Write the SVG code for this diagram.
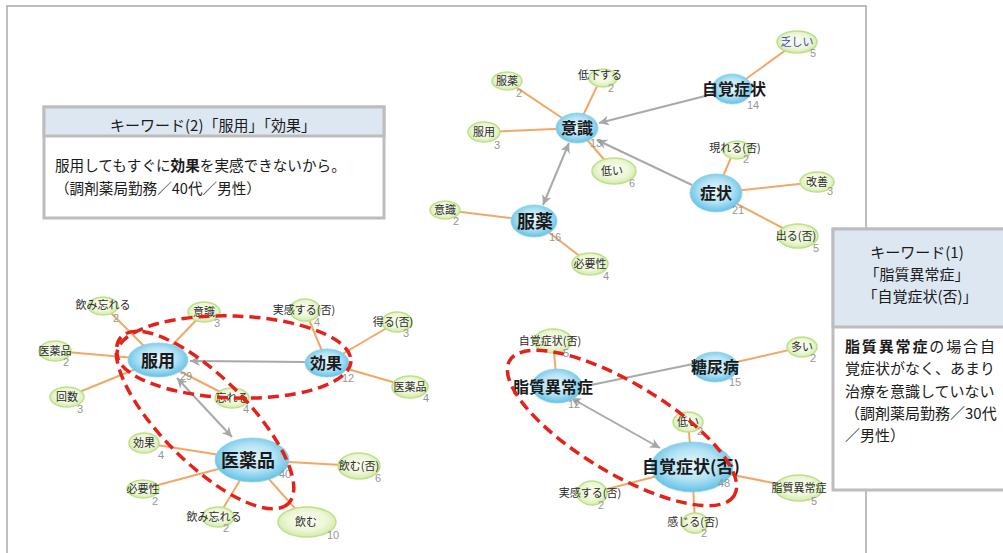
<svg xmlns="http://www.w3.org/2000/svg" width="1003" height="553" viewBox="0 0 1003 553">
<defs>
<radialGradient id="gb" cx="50%" cy="45%" r="55%">
<stop offset="0" stop-color="#e8f7fd"/><stop offset="0.55" stop-color="#b4e3f5"/><stop offset="1" stop-color="#62c1e6"/>
</radialGradient>
<radialGradient id="gg" cx="50%" cy="45%" r="55%">
<stop offset="0" stop-color="#fbfdf3"/><stop offset="0.6" stop-color="#eef7d8"/><stop offset="1" stop-color="#d2ebaa"/>
</radialGradient>
<marker id="ah" markerUnits="userSpaceOnUse" markerWidth="11" markerHeight="10" refX="10" refY="5" orient="auto-start-reverse" viewBox="0 0 11 10">
<path d="M0,0 L10,5 L0,10 L3,5 z" fill="#a6a6a6"/>
</marker>
<style>
.frame{fill:none;stroke:#a8a8a8;stroke-width:1.5}
.e{stroke:#f2a764;stroke-width:2;fill:none}
.a{stroke:#a9a9a9;stroke-width:2;fill:none}
.bn{fill:url(#gb);stroke:#8fd0ea;stroke-width:0.8}
.gn{fill:url(#gg);stroke:#bfe08a;stroke-width:1.5}
.bl{font-family:"Noto Sans CJK JP",sans-serif;font-weight:bold;font-size:16px;fill:#1a1a1a;text-anchor:middle}
.gl{font-family:"Noto Sans CJK JP",sans-serif;font-size:11px;fill:#2a2a2a;text-anchor:middle}
.c{font-family:"Liberation Sans",sans-serif;font-size:11px;fill:#969696}
.hl{fill:none;stroke:#e3231b;stroke-width:3.5;stroke-dasharray:11 6}
.box{fill:#fff;stroke:#bdbdbd;stroke-width:3}
.hdr{fill:#dde7f2;stroke:#bdbdbd;stroke-width:3}
.bt{font-family:"Noto Sans CJK JP",sans-serif;font-size:14.6px;fill:#1a1a1a}
.ht{font-family:"Noto Sans CJK JP",sans-serif;font-size:15px;fill:#1a1a1a;text-anchor:middle}
</style>
</defs>
<rect width="1003" height="553" fill="#fff"/>
<rect class="frame" x="7" y="6" width="859" height="560"/>

<g id="connectors">
<line class="e" x1="577" y1="128" x2="507" y2="81"/>
<line class="e" x1="577" y1="128" x2="601" y2="78"/>
<line class="e" x1="577" y1="128" x2="484" y2="132"/>
<line class="e" x1="577" y1="128" x2="614" y2="171"/>
<line class="e" x1="732" y1="89" x2="797" y2="42"/>
<line class="e" x1="716" y1="193" x2="735" y2="148"/>
<line class="e" x1="716" y1="193" x2="817" y2="182"/>
<line class="e" x1="716" y1="193" x2="798" y2="236"/>
<line class="e" x1="534" y1="221" x2="445" y2="210"/>
<line class="e" x1="534" y1="221" x2="590" y2="264"/>
<line class="a" x1="713" y1="94" x2="599" y2="123" marker-end="url(#ah)"/>
<line class="a" x1="692" y1="185" x2="597" y2="140" marker-end="url(#ah)"/>
<line class="a" x1="569" y1="143" x2="543" y2="205" marker-start="url(#ah)" marker-end="url(#ah)"/>
<line class="e" x1="158" y1="360" x2="103" y2="305"/>
<line class="e" x1="158" y1="360" x2="204" y2="312"/>
<line class="e" x1="158" y1="360" x2="55" y2="351"/>
<line class="e" x1="158" y1="360" x2="67" y2="397"/>
<line class="e" x1="158" y1="360" x2="232" y2="398"/>
<line class="e" x1="252" y1="460" x2="144" y2="443"/>
<line class="e" x1="252" y1="460" x2="143" y2="489"/>
<line class="e" x1="252" y1="460" x2="218" y2="517"/>
<line class="e" x1="252" y1="460" x2="359" y2="466"/>
<line class="e" x1="252" y1="460" x2="307" y2="522"/>
<line class="e" x1="327" y1="363" x2="305" y2="310"/>
<line class="e" x1="327" y1="363" x2="397" y2="322"/>
<line class="e" x1="327" y1="363" x2="410" y2="387"/>
<line class="a" x1="305" y1="362" x2="190" y2="361" marker-end="url(#ah)"/>
<line class="a" x1="177" y1="378" x2="232" y2="437" marker-start="url(#ah)" marker-end="url(#ah)"/>
<line class="e" x1="557" y1="386" x2="553" y2="341"/>
<line class="e" x1="715" y1="367" x2="802" y2="347"/>
<line class="e" x1="692" y1="467" x2="688" y2="422"/>
<line class="e" x1="692" y1="467" x2="592" y2="493"/>
<line class="e" x1="692" y1="467" x2="799" y2="488"/>
<line class="e" x1="692" y1="467" x2="695" y2="523"/>
<line class="a" x1="571" y1="398" x2="660" y2="448" marker-start="url(#ah)" marker-end="url(#ah)"/>
<line class="a" x1="693" y1="364" x2="586" y2="386"/>
</g>

<g id="n-ishiki"><ellipse class="bn" cx="577" cy="128" rx="21" ry="15"/><text class="bl" x="577" y="134">意識</text><text class="c" x="590" y="147">13</text></g>
<g id="n-jikaku"><ellipse class="bn" cx="732" cy="89" rx="20" ry="15"/><text class="bl" x="734" y="95">自覚症状</text><text class="c" x="747" y="109">14</text></g>
<g id="n-toboshii"><ellipse class="gn" cx="797" cy="42" rx="20" ry="11"/><text class="gl" x="797" y="46" style="fill:#4545c8">乏しい</text><text class="c" x="810" y="57">5</text></g>
<g id="n-fukuyaku-g1"><ellipse class="gn" cx="507" cy="81" rx="15" ry="9"/><text class="gl" x="507" y="85">服薬</text><text class="c" x="516" y="97">2</text></g>
<g id="n-teika"><ellipse class="gn" cx="603" cy="78" rx="14" ry="9"/><text class="gl" x="600" y="79">低下する</text><text class="c" x="608" y="92">2</text></g>
<g id="n-fukuyou-g1"><ellipse class="gn" cx="484" cy="132" rx="16" ry="10"/><text class="gl" x="484" y="136">服用</text><text class="c" x="494" y="149">3</text></g>
<g id="n-arawareru"><ellipse class="gn" cx="737" cy="150" rx="14" ry="9"/><text class="gl" x="735" y="152">現れる(否)</text><text class="c" x="743" y="163">2</text></g>
<g id="n-hikui1"><ellipse class="gn" cx="614" cy="171" rx="22" ry="13"/><text class="gl" x="612" y="175">低い</text><text class="c" x="629" y="187">6</text></g>
<g id="n-shoujou"><ellipse class="bn" cx="716" cy="193" rx="26" ry="19"/><text class="bl" x="716" y="199">症状</text><text class="c" x="732" y="214">21</text></g>
<g id="n-kaizen"><ellipse class="gn" cx="817" cy="182" rx="17" ry="10"/><text class="gl" x="817" y="186">改善</text><text class="c" x="827" y="195">3</text></g>
<g id="n-deru"><ellipse class="gn" cx="798" cy="236" rx="20" ry="12"/><text class="gl" x="796" y="240">出る(否)</text><text class="c" x="813" y="252">5</text></g>
<g id="n-fukuyaku"><ellipse class="bn" cx="534" cy="221" rx="23" ry="16"/><text class="bl" x="535" y="228" style="font-size:18px">服薬</text><text class="c" x="549" y="241">16</text></g>
<g id="n-ishiki-g1"><ellipse class="gn" cx="445" cy="210" rx="15" ry="9"/><text class="gl" x="445" y="214">意識</text><text class="c" x="453" y="225">2</text></g>
<g id="n-hitsuyou1"><ellipse class="gn" cx="590" cy="264" rx="18" ry="11"/><text class="gl" x="590" y="268">必要性</text><text class="c" x="603" y="280">4</text></g>

<g id="n-fukuyou"><ellipse class="bn" cx="158" cy="360" rx="30" ry="17"/><text class="bl" x="158" y="367" style="font-size:17px">服用</text><text class="c" x="180" y="380">29</text></g>
<g id="n-nomiwasure1"><ellipse class="gn" cx="103" cy="306" rx="15" ry="9"/><text class="gl" x="103" y="309">飲み忘れる</text><text class="c" x="113" y="322">2</text></g>
<g id="n-ishiki-g2"><ellipse class="gn" cx="204" cy="312" rx="16" ry="10"/><text class="gl" x="204" y="316">意識</text><text class="c" x="214" y="327">3</text></g>
<g id="n-iyakuhin-g1"><ellipse class="gn" cx="55" cy="351" rx="16" ry="10"/><text class="gl" x="55" y="355">医薬品</text><text class="c" x="63" y="366">2</text></g>
<g id="n-kaisuu"><ellipse class="gn" cx="67" cy="397" rx="17" ry="10"/><text class="gl" x="67" y="401">回数</text><text class="c" x="77" y="413">3</text></g>
<g id="n-wasureru"><ellipse class="gn" cx="232" cy="398" rx="17" ry="10"/><text class="gl" x="232" y="402">忘れる</text><text class="c" x="243" y="413">4</text></g>
<g id="n-kouka-g"><ellipse class="gn" cx="144" cy="443" rx="15" ry="10"/><text class="gl" x="144" y="447">効果</text><text class="c" x="158" y="459">4</text></g>
<g id="n-hitsuyou2"><ellipse class="gn" cx="143" cy="489" rx="16" ry="9"/><text class="gl" x="143" y="493">必要性</text><text class="c" x="152" y="505">2</text></g>
<g id="n-nomiwasure2"><ellipse class="gn" cx="218" cy="517" rx="16" ry="10"/><text class="gl" x="214" y="521">飲み忘れる</text><text class="c" x="223" y="532">2</text></g>
<g id="n-iyakuhin"><ellipse class="bn" cx="252" cy="460" rx="37" ry="22"/><text class="bl" x="248" y="467" style="font-size:18px">医薬品</text><text class="c" x="279" y="478">40</text></g>
<g id="n-kouka"><ellipse class="bn" cx="327" cy="363" rx="22" ry="14"/><text class="bl" x="326" y="369">効果</text><text class="c" x="342" y="382">12</text></g>
<g id="n-jikkan1"><ellipse class="gn" cx="305" cy="310" rx="15" ry="11"/><text class="gl" x="304" y="314">実感する(否)</text><text class="c" x="314" y="326">4</text></g>
<g id="n-eru"><ellipse class="gn" cx="397" cy="322" rx="15" ry="10"/><text class="gl" x="393" y="326">得る(否)</text><text class="c" x="403" y="337">3</text></g>
<g id="n-iyakuhin-g2"><ellipse class="gn" cx="410" cy="387" rx="18" ry="11"/><text class="gl" x="410" y="391">医薬品</text><text class="c" x="423" y="402">4</text></g>
<g id="n-nomu-hi"><ellipse class="gn" cx="359" cy="466" rx="21" ry="13"/><text class="gl" x="359" y="470">飲む(否)</text><text class="c" x="375" y="482">6</text></g>
<g id="n-nomu"><ellipse class="gn" cx="307" cy="522" rx="29" ry="15"/><text class="gl" x="306" y="526">飲む</text><text class="c" x="327" y="539">10</text></g>

<g id="n-shishitsu"><ellipse class="bn" cx="557" cy="386" rx="25" ry="17"/><text class="bl" x="553" y="393">脂質異常症</text><text class="c" x="568" y="408">12</text></g>
<g id="n-jikaku-g"><ellipse class="gn" cx="553" cy="341" rx="19" ry="12"/><text class="gl" x="550" y="345">自覚症状(否)</text><text class="c" x="563" y="357">5</text></g>
<g id="n-tounyou"><ellipse class="bn" cx="715" cy="367" rx="23" ry="15"/><text class="bl" x="715" y="373">糖尿病</text><text class="c" x="729" y="386">15</text></g>
<g id="n-ooi"><ellipse class="gn" cx="802" cy="347" rx="15" ry="10"/><text class="gl" x="802" y="351">多い</text><text class="c" x="810" y="362">2</text></g>
<g id="n-hikui2"><ellipse class="gn" cx="688" cy="422" rx="15" ry="10"/><text class="gl" x="688" y="426">低い</text><text class="c" x="697" y="435">2</text></g>
<g id="n-jikaku-hi"><ellipse class="bn" cx="692" cy="467" rx="41" ry="25"/><text class="bl" x="691" y="473" style="font-size:17px">自覚症状(否)</text><text class="c" x="718" y="487">48</text></g>
<g id="n-shishitsu-g"><ellipse class="gn" cx="799" cy="488" rx="24" ry="13"/><text class="gl" x="799" y="492">脂質異常症</text><text class="c" x="811" y="505">5</text></g>
<g id="n-jikkan2"><ellipse class="gn" cx="592" cy="493" rx="15" ry="12"/><text class="gl" x="590" y="497">実感する(否)</text><text class="c" x="598" y="509">2</text></g>
<g id="n-kanjiru"><ellipse class="gn" cx="695" cy="523" rx="13" ry="10"/><text class="gl" x="693" y="526">感じる(否)</text><text class="c" x="701" y="537">2</text></g>

<g id="highlights">
<ellipse class="hl" cx="234" cy="357" rx="117" ry="41" transform="rotate(2 234 357)"/>
<ellipse class="hl" cx="205" cy="420" rx="118" ry="43" transform="rotate(45 205 420)"/>
<ellipse class="hl" cx="622" cy="428" rx="131" ry="45" transform="rotate(31 622 428)"/>
</g>

<g id="box-keyword2">
<rect class="box" x="44" y="107" width="340" height="111"/>
<rect class="hdr" x="44" y="107" width="340" height="29"/>
<text class="ht" x="213" y="131">キーワード(2)「服用」「効果」</text>
<text class="bt" x="55" y="171">服用してもすぐに<tspan font-weight="bold">効果</tspan>を実感できないから。</text>
<text class="bt" x="55" y="194">（調剤薬局勤務／40代／男性）</text>
</g>

<g id="box-keyword1">
<rect class="box" x="833" y="229" width="175" height="261"/>
<rect class="hdr" x="833" y="229" width="175" height="98"/>
<text class="ht" x="917" y="258">キーワード(1)</text>
<text class="ht" x="917" y="280">「脂質異常症」</text>
<text class="ht" x="920" y="302">「自覚症状(否)」</text>
<text class="bt" x="845" y="352" style="font-size:15px" textLength="150" lengthAdjust="spacing"><tspan font-weight="bold">脂質異常症</tspan>の場合自</text>
<text class="bt" x="845" y="374" style="font-size:15px">覚症状がなく、あまり</text>
<text class="bt" x="845" y="397" style="font-size:15px">治療を意識していない</text>
<text class="bt" x="845" y="419" style="font-size:15px">（調剤薬局勤務／30代</text>
<text class="bt" x="845" y="441" style="font-size:15px">／男性）</text>
</g>
</svg>
